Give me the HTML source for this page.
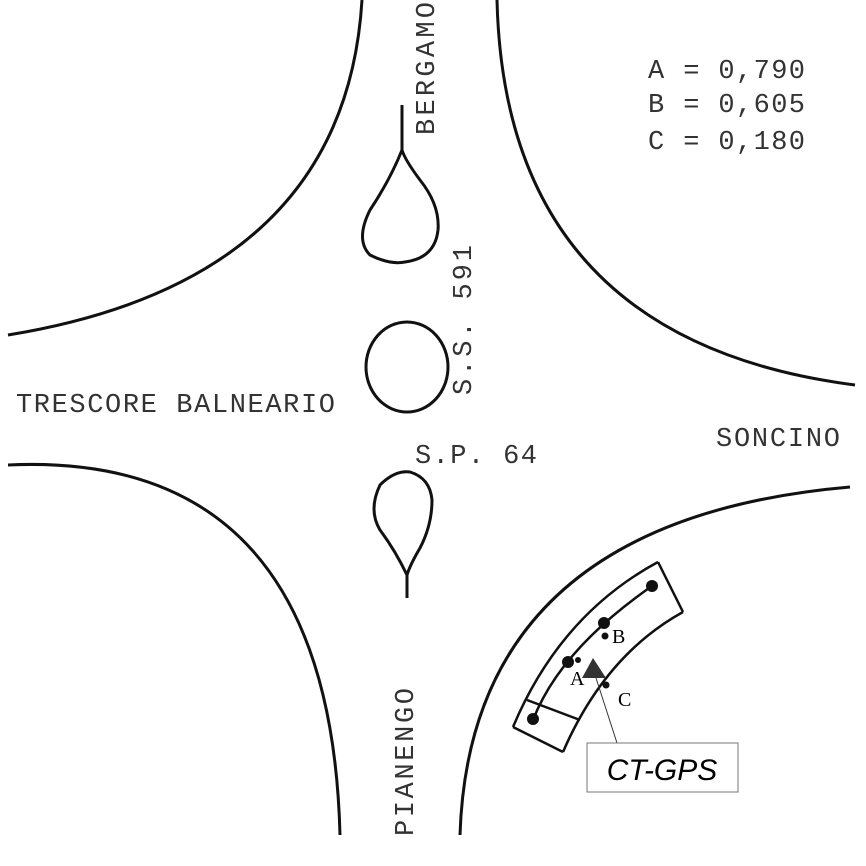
<!DOCTYPE html>
<html><head><style>
html,body{margin:0;padding:0;background:#fff;}
svg{display:block}
.m{font-family:"Liberation Mono",monospace;fill:#333;font-size:27px;}
</style></head><body>
<svg width="866" height="866" viewBox="0 0 866 866" xmlns="http://www.w3.org/2000/svg">
<g fill="none" stroke="#111" stroke-width="3">
<path d="M8,335 Q345,280 362,0"/>
<path d="M497,0 Q505,340 855,385"/>
<path d="M8,465 Q330,450 340,835"/>
<path d="M460,835 Q470,520 850,487"/>
<path d="M402,105 L402,150 Q390,180 370,210 Q355,240 370,255 Q390,265 405,262 Q435,258 438,230 Q440,205 420,180 Q405,160 402,150"/>
<ellipse cx="407" cy="367" rx="41" ry="45"/>
<path d="M407,598 L407,575 Q395,550 380,530 Q368,510 380,485 Q395,470 410,472 Q430,478 432,500 Q432,525 420,548 Q410,565 407,575"/>
<path d="M513,727 Q560,615 658,562" stroke-width="2.5"/>
<path d="M563,752 Q605,655 683,612" stroke-width="2.5"/>
<path d="M658,562 L683,612" stroke-width="2.5"/>
<path d="M513,727 L563,752" stroke-width="2.5"/>
<path d="M527,700 L580,720" stroke-width="2.5"/>
<path d="M533,720 Q560,650 652,586" stroke-width="2.5"/>
</g>
<g fill="#111">
<circle cx="533" cy="719" r="6"/>
<circle cx="568" cy="662" r="6"/>
<circle cx="578" cy="660" r="3"/>
<circle cx="604" cy="623" r="6"/>
<circle cx="605" cy="636" r="3.5"/>
<circle cx="652" cy="586" r="6"/>
<circle cx="606" cy="685" r="3.5"/>
<polygon points="593,658 582,678 606,678" fill="#333"/>
</g>
<line x1="596" y1="678" x2="617" y2="743" stroke="#333" stroke-width="1"/>
<rect x="587" y="743" width="151" height="49" fill="#fff" stroke="#777" stroke-width="1"/>
<text x="662" y="780" font-style="italic" font-size="30" text-anchor="middle" style="font-family:'Liberation Sans',sans-serif">CT-GPS</text>
<text x="612" y="643" font-size="20" style="font-family:'Liberation Serif',serif">B</text>
<text x="570" y="685" font-size="20" style="font-family:'Liberation Serif',serif">A</text>
<text x="618" y="706" font-size="20" style="font-family:'Liberation Serif',serif">C</text>
<text class="m" x="648" y="78" textLength="157">A = 0,790</text>
<text class="m" x="648" y="112" textLength="157">B = 0,605</text>
<text class="m" x="648" y="149" textLength="157">C = 0,180</text>
<text class="m" x="16" y="412" textLength="319">TRESCORE BALNEARIO</text>
<text class="m" x="716" y="446" textLength="124">SONCINO</text>
<text class="m" x="415" y="463" textLength="122">S.P. 64</text>
<text class="m" transform="translate(434,135) rotate(-90)" textLength="133">BERGAMO</text>
<text class="m" transform="translate(471,395) rotate(-90)" textLength="150">S.S. 591</text>
<text class="m" transform="translate(413,836) rotate(-90)" textLength="148">PIANENGO</text>
</svg>
</body></html>
